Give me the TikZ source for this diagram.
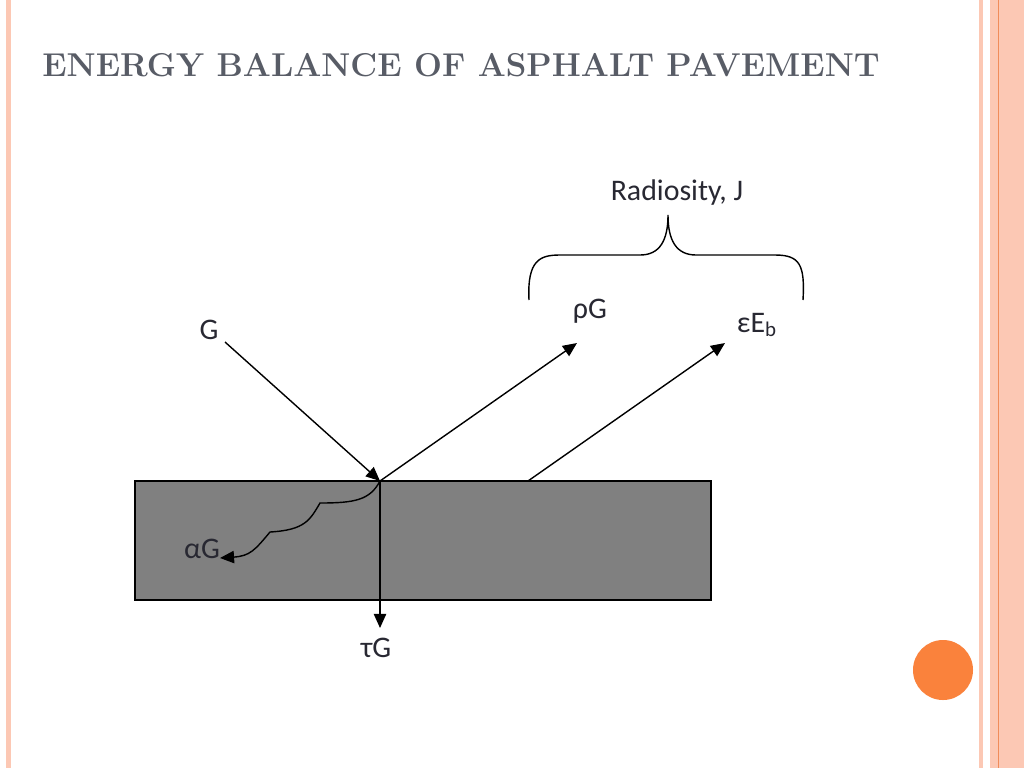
\documentclass[tikz,border=0pt]{standalone}
\usepackage{fontspec}
\setsansfont{Carlito}
\usepackage{tikz}
\usetikzlibrary{arrows.meta}
\definecolor{salmon}{RGB}{252,200,180}
\definecolor{stripe}{RGB}{240,140,90}
\definecolor{titlegray}{RGB}{88,92,102}
\definecolor{labelgray}{RGB}{40,40,50}
\definecolor{dot}{RGB}{250,130,60}
\begin{document}
\begin{tikzpicture}[x=0.02cm,y=-0.02cm,
    lbl/.style={font=\sffamily\fontsize{17}{19}\selectfont,text=labelgray,inner sep=1pt},
    ray/.style={thick,-{Triangle[length=8pt,width=7pt]}}]
    % page and border stripes
    \fill[white] (0,0) rectangle (1024,768);
    \useasboundingbox (0,0) rectangle (1024,768);
    \fill[salmon] (6,0) rectangle (11,768);
    \fill[salmon] (979,0) rectangle (983,768);
    \fill[salmon] (990,0) rectangle (1024,768);
    \draw[stripe,thin] (998,0) -- (998,768);
    \fill[dot] (943,670) circle (30);
    % title
    \node[anchor=west,text=titlegray,inner sep=0pt,font=\bfseries\fontsize{18.8}{22}\selectfont] (title) at (42,65) {ENERGY BALANCE OF ASPHALT PAVEMENT};
    % pavement slab
    \draw[thick,fill=black!50] (135,481) rectangle (711,600);
    \coordinate (hit) at (380,481);
    \coordinate (emit) at (528,481);
    % labels
    \node[lbl] (G) at (209,330) {G};
    \node[lbl] (rhoG) at (590,311) {ρG};
    \node[lbl] (epsE) at (757,325) {εE\textsubscript{b}};
    \node[lbl] (alphaG) at (202,549) {αG};
    \node[lbl] (tauG) at (376,648) {τG};
    \node[lbl] (rad) at (677,193) {Radiosity, J};
    % rays
    \draw[ray] (225,342) -- (hit);
    \draw[ray] (hit) -- (577,343);
    \draw[ray] (emit) -- (725,343);
    \draw[ray] (hit) -- (380,628);
    \draw[ray] (hit) .. controls (370,500) and (355,503) .. (320,503)
        .. controls (310,520) and (305,530) .. (270,532)
        .. controls (255,550) and (250,556) .. (220,558);
    % brace
    \draw[thick] (529,300) .. controls (527,260) and (540,255) .. (560,255)
        -- (640,255) .. controls (660,255) and (668,240) .. (668,215)
        .. controls (668,240) and (676,255) .. (696,255)
        -- (775,255) .. controls (800,255) and (805,265) .. (803,300);
\end{tikzpicture}
\end{document}
